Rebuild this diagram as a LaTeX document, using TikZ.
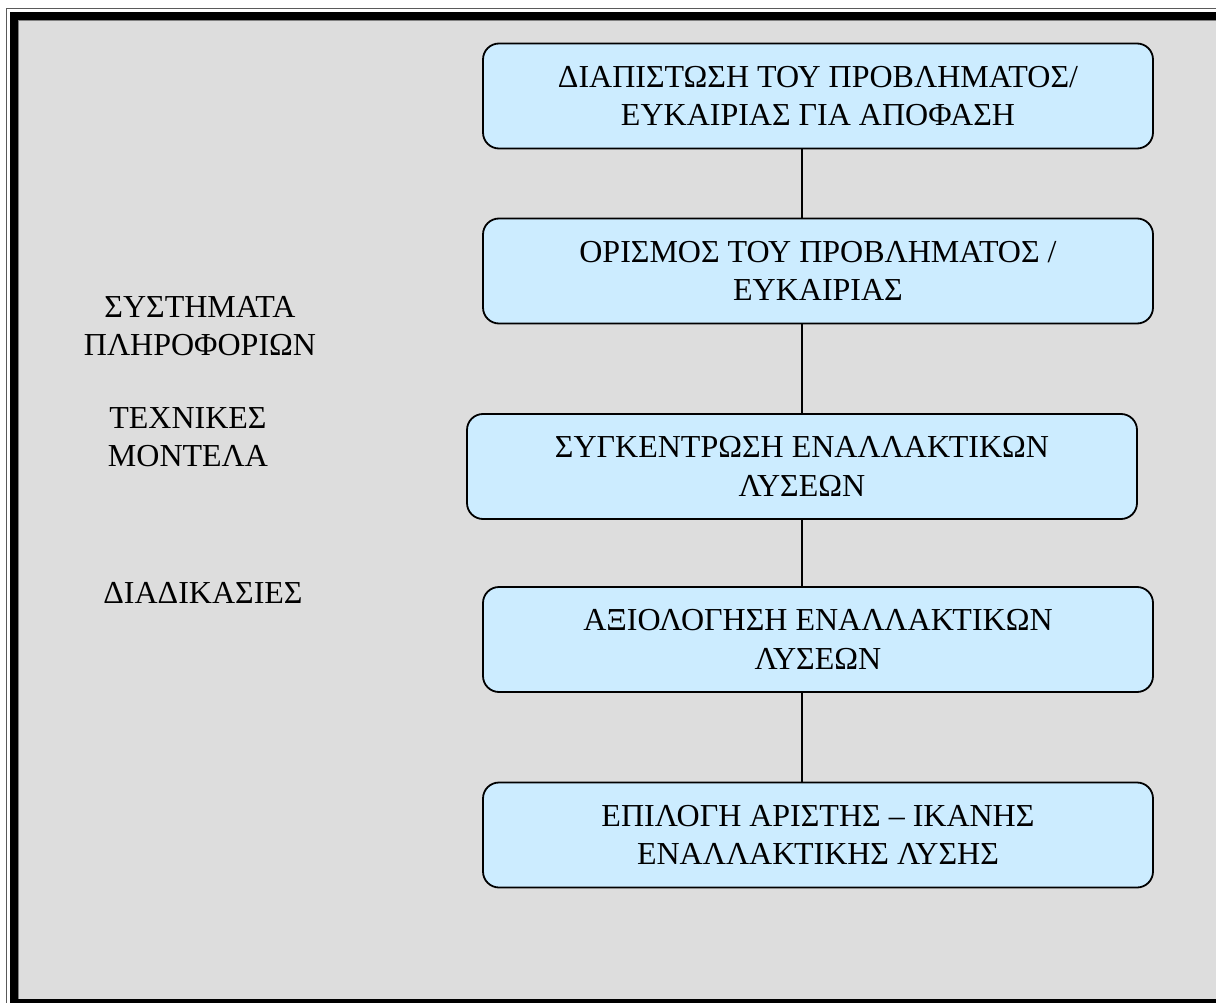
\documentclass[tikz,border=0pt]{standalone}
\usepackage{fontspec}
\setmainfont{Liberation Serif}
\definecolor{bgfill}{RGB}{221,221,221}
\definecolor{boxfill}{RGB}{204,236,255}
\definecolor{thinedge}{RGB}{90,90,90}
\definecolor{inneredge}{RGB}{128,128,128}
\tikzset{
  stepbox/.style={draw=black, line width=1.8pt, fill=boxfill, rounded corners=16pt,
    minimum width=670pt, minimum height=105pt, inner sep=0pt, align=center,
    font=\fontsize{32}{38.5}\selectfont},
  sidetext/.style={anchor=base, inner sep=0pt, font=\fontsize{32}{38}\selectfont},
  link/.style={draw=black, line width=1.8pt}
}
\begin{document}
\begin{tikzpicture}[x=1pt,y=-1pt]
\useasboundingbox (0,0) rectangle (1216,1003);
% frame
\draw[thinedge, line width=1.2pt] (6.5,8.5) rectangle (1300,1100);
\fill[black] (10,12) rectangle (1300,1100);
\fill[bgfill] (18,20) rectangle (1216,999);
\draw[inneredge, line width=1pt] (18.5,999) -- (18.5,20.5) -- (1216,20.5);
% boxes
\node[stepbox] (b1) at (818,96) {ΔΙΑΠΙΣΤΩΣΗ ΤΟΥ ΠΡΟΒΛΗΜΑΤΟΣ/\\ΕΥΚΑΙΡΙΑΣ ΓΙΑ ΑΠΟΦΑΣΗ};
\node[stepbox] (b2) at (818,271) {ΟΡΙΣΜΟΣ ΤΟΥ ΠΡΟΒΛΗΜΑΤΟΣ /\\ΕΥΚΑΙΡΙΑΣ};
\node[stepbox] (b3) at (802,466.5) {ΣΥΓΚΕΝΤΡΩΣΗ ΕΝΑΛΛΑΚΤΙΚΩΝ\\ΛΥΣΕΩΝ};
\node[stepbox] (b4) at (818,639.5) {ΑΞΙΟΛΟΓΗΣΗ ΕΝΑΛΛΑΚΤΙΚΩΝ\\ΛΥΣΕΩΝ};
\node[stepbox] (b5) at (818,835) {ΕΠΙΛΟΓΗ ΑΡΙΣΤΗΣ – ΙΚΑΝΗΣ\\ΕΝΑΛΛΑΚΤΙΚΗΣ ΛΥΣΗΣ};
% connectors
\draw[link] (b1.south -| b3.center) -- (b2.north -| b3.center);
\draw[link] (b2.south -| b3.center) -- (b3.north);
\draw[link] (b3.south) -- (b4.north -| b3.center);
\draw[link] (b4.south -| b3.center) -- (b5.north -| b3.center);
% side labels
\node[sidetext] (s1) at (200,317) {ΣΥΣΤΗΜΑΤΑ};
\node[sidetext] (s2) at (200,355) {ΠΛΗΡΟΦΟΡΙΩΝ};
\node[sidetext] (s3) at (188,428) {ΤΕΧΝΙΚΕΣ};
\node[sidetext] (s4) at (188,466) {ΜΟΝΤΕΛΑ};
\node[sidetext] (s5) at (203,603) {ΔΙΑΔΙΚΑΣΙΕΣ};
\end{tikzpicture}
\end{document}
